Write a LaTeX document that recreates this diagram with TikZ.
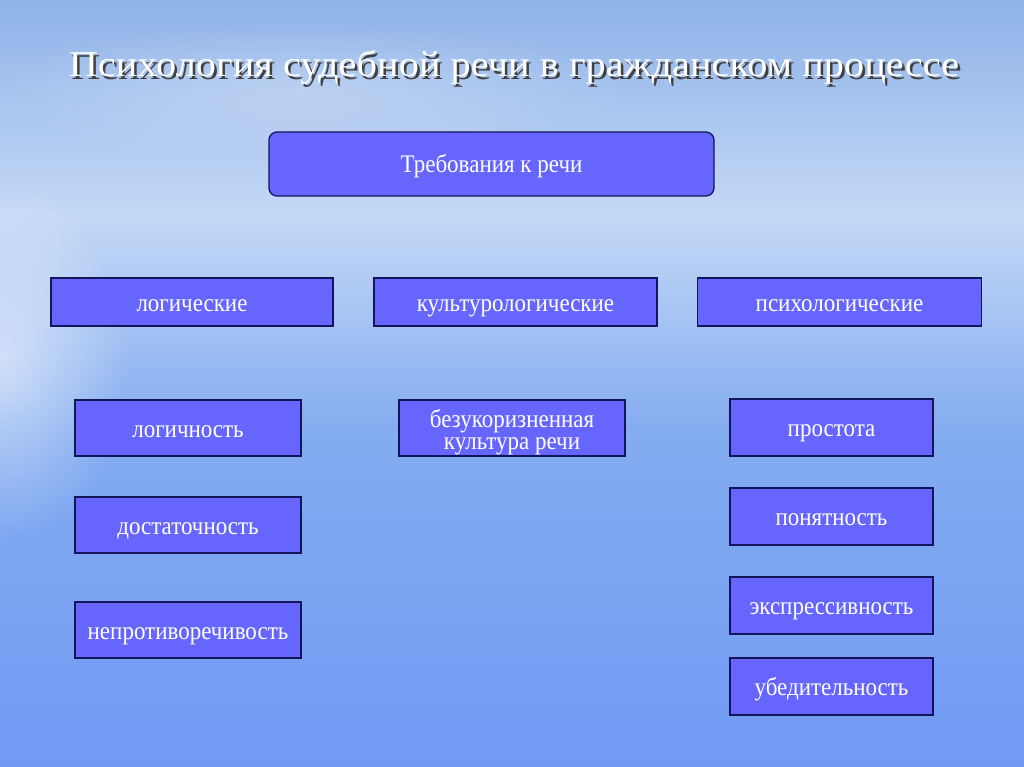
\documentclass[tikz,border=0pt]{standalone}
\usepackage{fontspec}
\setmainfont{Liberation Serif}
\usetikzlibrary{fadings}
\tikzfading[name=glowfade, inner color=transparent!0, outer color=transparent!100]
\definecolor{bgtop}{RGB}{142,178,232}
\definecolor{bgmid}{RGB}{196,216,246}
\definecolor{bglow}{RGB}{132,172,240}
\definecolor{bgbot}{RGB}{112,154,244}
\definecolor{boxfill}{RGB}{102,102,255}
\definecolor{boxline}{RGB}{20,20,90}
\tikzset{
  box/.style={draw=boxline, line width=1.3pt, fill=boxfill, text=white, inner sep=0pt,
    font=\fontsize{23}{26}\selectfont, align=center, text height=18pt, text depth=0pt},
  boxtext/.style={text=white, inner sep=0pt, font=\fontsize{23}{26}\selectfont},
  titletext/.style={inner sep=0pt, font=\fontsize{40.4}{44}\selectfont, anchor=base},
}
\newcommand{\tallt}[1]{\scalebox{1}[1.1]{#1}}
\newcommand{\titlestr}{Психология судебной речи в гражданском процессе}
\begin{document}
\begin{tikzpicture}[x=1pt,y=-1pt]
\useasboundingbox (0,0) rectangle (1024,767);
\shade[top color=bgtop, bottom color=bgmid] (0,0) rectangle (1024,215);
\shade[top color=bgmid, bottom color=bglow] (0,215) rectangle (1024,430);
\shade[top color=bglow, bottom color=bgbot] (0,430) rectangle (1024,767);
\fill[white, path fading=glowfade, opacity=0.55] (0,360) ellipse (130pt and 180pt);
\fill[white, path fading=glowfade, opacity=0.25] (300,90) ellipse (330pt and 70pt);
% title with shadow in one node
\node[titletext, text=white] (title) at (514,77) {\scalebox{1}[0.9]{\makebox[0pt][l]{\hspace{2.5pt}\raisebox{-2.5pt}{\color{black!75}\titlestr}}\titlestr}};
% top box
\draw[draw=boxline, line width=1.3pt, fill=boxfill, rounded corners=8pt] (269,132) rectangle (714,196);
\node[boxtext, anchor=base] (req) at (491.5,172.5) {\tallt{Требования к речи}};
% categories
\node[box, minimum width=282pt, minimum height=48pt] (log) at (192,302) {\tallt{логические}};
\node[box, minimum width=283pt, minimum height=48pt] (cul) at (515.5,302) {\tallt{культурологические}};
\node[box, minimum width=284pt, minimum height=48pt] (psy) at (839.5,302) {\tallt{психологические}};
% left column
\node[box, minimum width=226pt, minimum height=56pt] (l1) at (188,428) {\tallt{логичность}};
\node[box, minimum width=226pt, minimum height=56pt] (l2) at (188,525) {\tallt{достаточность}};
\node[box, minimum width=226pt, minimum height=56pt] (l3) at (188,630) {\tallt{непротиворечивость}};
% middle
\node[box, minimum width=226pt, minimum height=56pt] (c1) at (512,428) {};
\node[text=white, inner sep=0pt, font=\fontsize{23}{20.3}\selectfont, anchor=base] (c1t) at (512,449.5) {\tallt{\begin{tabular}[b]{@{}c@{}}безукоризненная\\культура речи\end{tabular}}};
% right column
\node[box, minimum width=203pt, minimum height=57pt] (p1) at (831.5,427.5) {\tallt{простота}};
\node[box, minimum width=203pt, minimum height=57pt] (p2) at (831.5,516.5) {\tallt{понятность}};
\node[box, minimum width=203pt, minimum height=57pt] (p3) at (831.5,605.5) {\tallt{экспрессивность}};
\node[box, minimum width=203pt, minimum height=57pt] (p4) at (831.5,686.5) {\tallt{убедительность}};
\end{tikzpicture}
\end{document}
